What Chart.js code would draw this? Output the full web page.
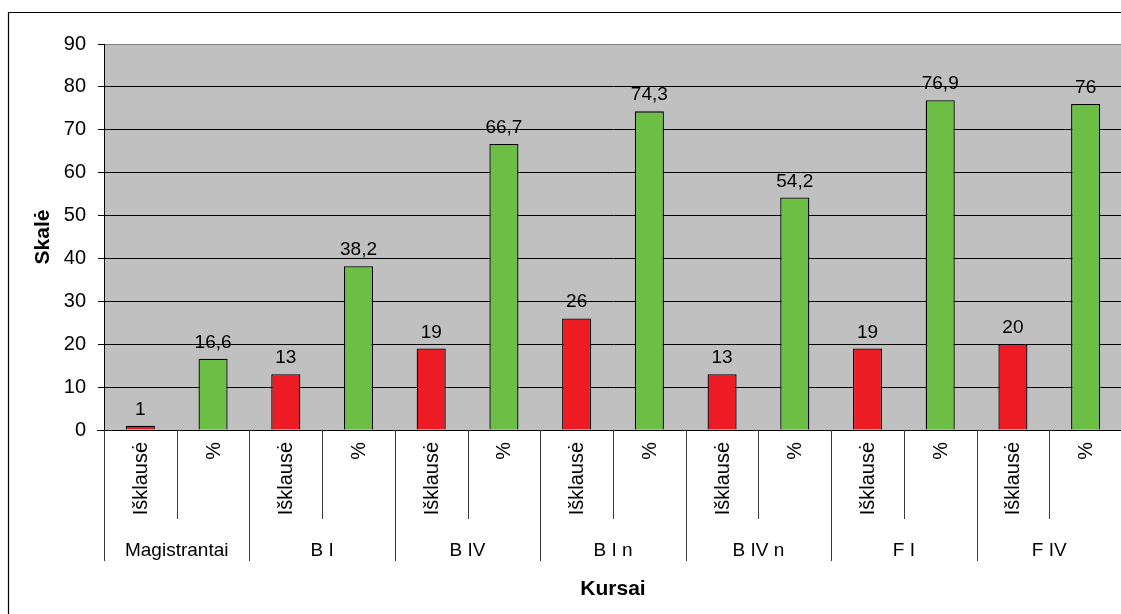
<!DOCTYPE html>
<html lang="lt">
<head>
<meta charset="utf-8">
<title>Kursai – Skalė</title>
<script src="https://cdn.jsdelivr.net/npm/chart.js@4/dist/chart.umd.min.js"></script>
<style>
  html, body { margin: 0; padding: 0; background: #ffffff; overflow: hidden; }
  #wrap { width: 1121px; height: 614px; overflow: hidden; }
  canvas { display: block; }
</style>
</head>
<body>
<div id="wrap"><canvas id="chart" width="1124" height="614"></canvas></div>
<script>
// Course groups and the two measures shown for each of them
const groups = ['Magistrantai', 'B I', 'B IV', 'B I n', 'B IV n', 'F I', 'F IV'];
const subLabels = ['Išklausė', '%'];
const isklause = [1, 13, 19, 26, 13, 19, 20];
const procentai = [16.6, 38.2, 66.7, 74.3, 54.2, 76.9, 76];
const yTicks = { min: 0, max: 90, step: 10 };
const axisTitles = { x: 'Kursai', y: 'Skalė' };

const RED = '#ED1C24';
const GREEN = '#6CBE45';
const FONT = '"Liberation Sans", Arial, sans-serif';

// One category per bar: Išklausė, % for every group, in order
const labels = [];
const values = [];
const colors = [];
groups.forEach((g, i) => {
  labels.push(subLabels[0], subLabels[1]);
  values.push(isklause[i], procentai[i]);
  colors.push(RED, GREEN);
});

const fmt = v => String(v).replace('.', ',');

const decor = {
  id: 'decor',
  beforeDraw(chart) {
    const { ctx, chartArea: a } = chart;
    ctx.save();
    // outer frame
    ctx.strokeStyle = '#000';
    ctx.lineWidth = 1.2;
    ctx.beginPath();
    ctx.moveTo(8.5, chart.height + 2);
    ctx.lineTo(8.5, 12.5);
    ctx.lineTo(chart.width + 2, 12.5);
    ctx.stroke();
    // plot background
    ctx.fillStyle = '#C0C0C0';
    ctx.fillRect(a.left, a.top, a.right - a.left, a.bottom - a.top);
    ctx.restore();
  },
  afterDatasetsDraw(chart) {
    const { ctx } = chart;
    const meta = chart.getDatasetMeta(0);
    ctx.save();
    ctx.fillStyle = '#000';
    ctx.font = '19px ' + FONT;
    ctx.textAlign = 'center';
    ctx.textBaseline = 'alphabetic';
    meta.data.forEach((bar, i) => {
      ctx.fillText(fmt(values[i]), bar.x, bar.y - 11);
    });
    ctx.restore();
  },
  afterDraw(chart) {
    const { ctx, chartArea: a } = chart;
    const x = chart.scales.x;
    const n = labels.length;
    const step = (a.right - a.left) / n;
    ctx.save();

    // x axis line
    ctx.strokeStyle = '#000';
    ctx.lineWidth = 1;
    ctx.beginPath();
    ctx.moveTo(a.left - 7, Math.round(a.bottom) + 0.5);
    ctx.lineTo(a.right, Math.round(a.bottom) + 0.5);
    ctx.stroke();

    // category separators: short between the two measures, long between groups
    ctx.strokeStyle = '#3a3a3a';
    for (let i = 0; i <= n; i++) {
      const px = Math.round(a.left + i * step) + 0.5;
      const bottom = i % 2 === 0 ? 561 : 519;
      ctx.beginPath();
      ctx.moveTo(px, a.bottom);
      ctx.lineTo(px, bottom);
      ctx.stroke();
    }

    // inner (rotated) category labels
    ctx.fillStyle = '#000';
    ctx.font = '20px ' + FONT;
    labels.forEach((lab, i) => {
      const cx = x.getPixelForValue(i);
      ctx.save();
      ctx.translate(cx + 1, a.bottom + 12);
      ctx.rotate(-Math.PI / 2);
      ctx.textAlign = 'right';
      ctx.textBaseline = 'middle';
      ctx.fillText(lab, 0, 0);
      ctx.restore();
    });

    // group labels
    ctx.font = '19px ' + FONT;
    ctx.textAlign = 'center';
    ctx.textBaseline = 'alphabetic';
    groups.forEach((g, gi) => {
      const cx = (x.getPixelForValue(gi * 2) + x.getPixelForValue(gi * 2 + 1)) / 2;
      ctx.fillText(g, cx, 556);
    });

    // axis titles
    ctx.font = 'bold 21px ' + FONT;
    ctx.fillText(axisTitles.x, (a.left + a.right) / 2, 595);
    ctx.save();
    ctx.translate(43, (a.top + a.bottom) / 2);
    ctx.rotate(-Math.PI / 2);
    ctx.textAlign = 'center';
    ctx.textBaseline = 'middle';
    ctx.fillText(axisTitles.y, 0, 0);
    ctx.restore();

    ctx.restore();
  }
};

new Chart(document.getElementById('chart'), {
  type: 'bar',
  data: {
    labels: labels,
    datasets: [{
      data: values,
      backgroundColor: colors,
      borderColor: '#000',
      borderWidth: 1.3,
      barPercentage: 0.4,
      categoryPercentage: 1
    }]
  },
  options: {
    responsive: false,
    devicePixelRatio: 1,
    animation: false,
    events: [],
    layout: { padding: { left: 0, top: 44, right: 2, bottom: 184 } },
    plugins: {
      legend: { display: false },
      tooltip: { enabled: false },
      title: { display: false }
    },
    scales: {
      x: { display: false },
      y: {
        min: yTicks.min,
        max: yTicks.max,
        afterFit(scale) { scale.width = 104; },
        ticks: {
          stepSize: yTicks.step,
          padding: 12,
          color: '#000',
          font: { family: FONT, size: 20 }
        },
        grid: {
          color: ctx => (ctx.tick && ctx.tick.value === yTicks.max ? '#808080' : '#000'),
          tickColor: '#000',
          tickLength: 6,
          lineWidth: 1
        },
        border: { display: true, color: '#000', width: 1 }
      }
    }
  },
  plugins: [decor]
});
</script>
</body>
</html>
